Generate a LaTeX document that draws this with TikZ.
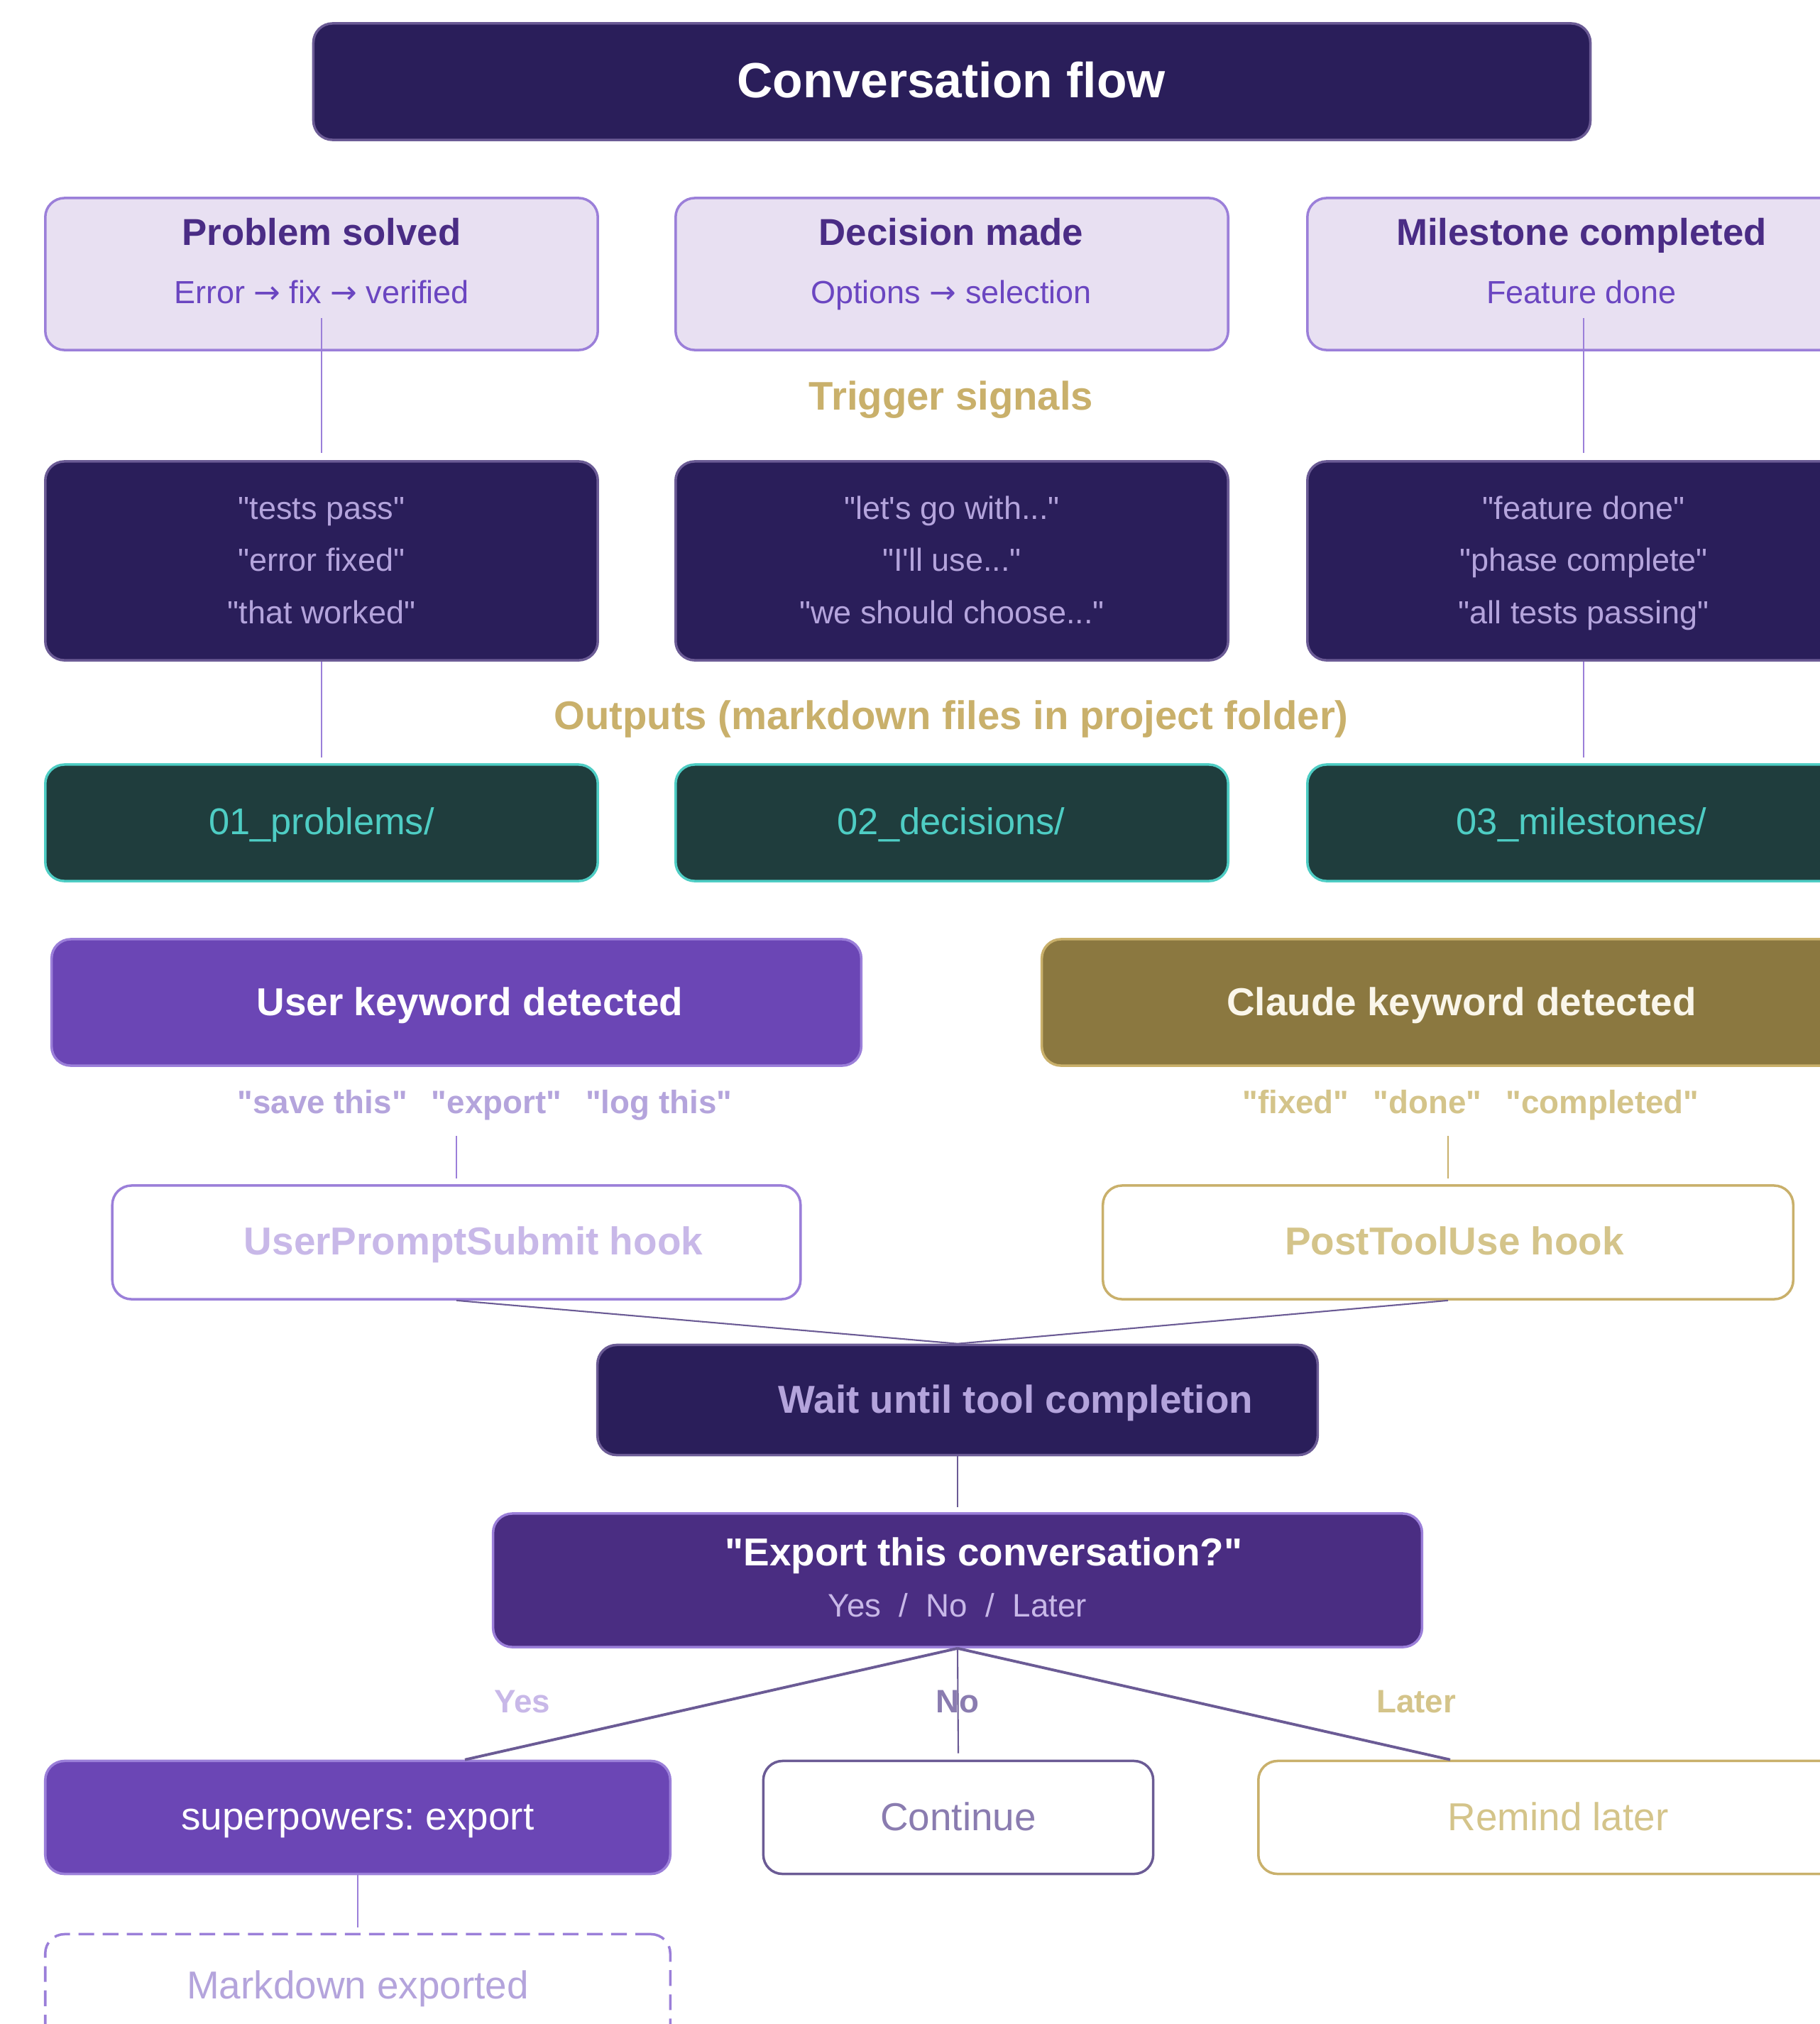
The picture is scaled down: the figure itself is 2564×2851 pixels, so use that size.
\documentclass[tikz,border=0pt]{standalone}
\usepackage{fontspec}
\setmainfont{Liberation Sans}[Ligatures=TeXOff]
\newfontfamily\arrowfont{DejaVu Sans}
\definecolor{cfNavy}{HTML}{2A1E5A}
\definecolor{cfNavyEdge}{HTML}{6B5B95}
\definecolor{cfLilac}{HTML}{E8E0F2}
\definecolor{cfLilacEdge}{HTML}{9B7FD9}
\definecolor{cfPlum}{HTML}{4A2C85}
\definecolor{cfViolet}{HTML}{6B46C1}
\definecolor{cfMist}{HTML}{B4A4DC}
\definecolor{cfPale}{HTML}{C8B8E8}
\definecolor{cfGold}{HTML}{C9B06B}
\definecolor{cfGoldPale}{HTML}{D4C48A}
\definecolor{cfCream}{HTML}{FAF6EA}
\definecolor{cfOlive}{HTML}{8B7840}
\definecolor{cfTealDark}{HTML}{1F3D3D}
\definecolor{cfTeal}{HTML}{4ECDC4}
\definecolor{cfPurple}{HTML}{6B46B5}
\definecolor{cfDeep}{HTML}{4A2D82}
\definecolor{cfGrape}{HTML}{8A7CB0}
\usepackage{tikz}
\usetikzlibrary{calc,positioning}
\newcommand{\cfto}{{\arrowfont →}}
\frenchspacing

\begin{document}
\begin{tikzpicture}[x=0.01cm, y=-0.01cm,
  card/.style={rounded corners=0.27cm, line width=1pt, inner sep=0pt, minimum width=7.78cm},
  txt/.style={anchor=base, inner sep=0pt},
  cardtitle/.style={font=\fontsize{15}{18}\selectfont\bfseries, text=cfPlum},
  cardsub/.style={font=\fontsize{12.8}{15}\selectfont, text=cfViolet},
  section/.style={font=\fontsize{16}{19}\selectfont\bfseries, text=cfGold},
  phrases/.style={card, fill=cfNavy, draw=cfNavyEdge, minimum height=2.80cm, align=center,
        font=\fontsize{12.8}{20.9}\selectfont, text=cfMist},
  big/.style={font=\fontsize{15.6}{19}\selectfont\bfseries},
  plain/.style={font=\fontsize{15.6}{19}\selectfont},
  small/.style={font=\fontsize{13}{16}\selectfont\bfseries},
  thin/.style={line width=0.6pt}]
  \useasboundingbox (0,0) rectangle (2564,2851);
  \clip (0,0) rectangle (2564,2851);
  \fill[white] (0,0) rectangle (2564,2851);

  % Header
  \node[card, fill=cfNavy, draw=cfNavyEdge, minimum width=17.98cm, minimum height=1.64cm] (head) at (1341,115) {};
  \node[txt, font=\fontsize{19.8}{24}\selectfont\bfseries, text=white] (headTxt) at (1340,137) {Conversation flow};

  % Kinds of moments
  \node[card, fill=cfLilac, draw=cfLilacEdge, minimum height=2.14cm] (prob) at (453,386) {};
  \node[txt, cardtitle] (probTitle) at (453,345) {Problem solved};
  \node[txt, cardsub] (probSub) at (453,427) {Error \cfto{} fix \cfto{} verified};

  \node[card, fill=cfLilac, draw=cfLilacEdge, minimum height=2.14cm] (dec) at (1341,386) {};
  \node[txt, cardtitle] (decTitle) at (1340,345) {Decision made};
  \node[txt, cardsub] (decSub) at (1340,427) {Options \cfto{} selection};

  \node[card, fill=cfLilac, draw=cfLilacEdge, minimum height=2.14cm] (mile) at (2231,386) {};
  \node[txt, cardtitle] (mileTitle) at (2228,345) {Milestone completed};
  \node[txt, cardsub] (mileSub) at (2228,427) {Feature done};

  \node[txt, section] (trig) at (1340,577) {Trigger signals};

  % Phrases that trigger
  \node[phrases] (sigA) at (453,790) {\strut"tests pass"\\"error fixed"\\"that worked"\strut};
  \node[phrases] (sigB) at (1341,790) {\strut"let's go with..."\\"I'll use..."\\"we should choose..."\strut};
  \node[phrases] (sigC) at (2231,790) {\strut"feature done"\\"phase complete"\\"all tests passing"\strut};

  \node[txt, section] (outs) at (1340,1027) {Outputs (markdown files in project folder)};

  % Folders
  \node[card, fill=cfTealDark, draw=cfTeal, minimum height=1.64cm] (outA) at (453,1159) {};
  \node[txt, font=\fontsize{14.9}{18}\selectfont, text=cfTeal] (outAtxt) at (453,1175) {01\_problems/};
  \node[card, fill=cfTealDark, draw=cfTeal, minimum height=1.64cm] (outB) at (1341,1159) {};
  \node[txt, font=\fontsize{14.9}{18}\selectfont, text=cfTeal] (outBtxt) at (1340,1175) {02\_decisions/};
  \node[card, fill=cfTealDark, draw=cfTeal, minimum height=1.64cm] (outC) at (2231,1159) {};
  \node[txt, font=\fontsize{14.9}{18}\selectfont, text=cfTeal] (outCtxt) at (2228,1175) {03\_milestones/};

  \draw[cfLilacEdge, thin] ($(prob.south)+(0,-47)$) -- ($(sigA.north)+(0,-10)$);
  \draw[cfLilacEdge, thin] (sigA.south) -- ($(outA.north)+(0,-8)$);
  \draw[cfLilacEdge, thin] ($(mile.south)+(0,-47)$) -- ($(sigC.north)+(0,-10)$);
  \draw[cfLilacEdge, thin] (sigC.south) -- ($(outC.north)+(0,-8)$);

  % Keyword detection
  \node[card, fill=cfPurple, draw=cfLilacEdge, minimum width=11.40cm, minimum height=1.78cm] (usr) at (643,1412) {};
  \node[txt, big, text=white] (usrTxt) at (662,1430) {User keyword detected};
  \node[card, fill=cfOlive, draw=cfGold, minimum width=11.40cm, minimum height=1.78cm] (cld) at (2038,1412) {};
  \node[txt, big, text=cfCream] (cldTxt) at (2059,1430) {Claude keyword detected};

  \node[txt, small, text=cfMist] (kwUser) at (683,1568) {"save this"\hspace{0.75em}"export"\hspace{0.75em}"log this"};
  \node[txt, small, text=cfGoldPale] (kwCld) at (2072,1568) {"fixed"\hspace{0.75em}"done"\hspace{0.75em}"completed"};

  \node[card, fill=white, draw=cfLilacEdge, minimum width=9.69cm, minimum height=1.60cm] (uph) at (643,1750) {};
  \node[txt, big, text=cfPale] (uphTxt) at (667,1767) {UserPromptSubmit hook};
  \node[card, fill=white, draw=cfGold, minimum width=9.72cm, minimum height=1.60cm] (pth) at (2040,1750) {};
  \node[txt, big, text=cfGoldPale] (pthTxt) at (2049,1767) {PostToolUse hook};

  \draw[cfLilacEdge, thin] ($(uph.north)+(0,-68)$) -- ($(uph.north)+(0,-8)$);
  \draw[cfGold, thin] ($(pth.north)+(0,-68)$) -- ($(pth.north)+(0,-8)$);

  % Prompt
  \node[card, fill=cfNavy, draw=cfNavyEdge, minimum width=10.14cm, minimum height=1.55cm] (wait) at (1349,1972) {};
  \node[txt, big, text=cfMist] (waitTxt) at (1431,1990) {Wait until tool completion};
  \draw[cfNavyEdge, thin] (uph.south) -- (wait.north);
  \draw[cfNavyEdge, thin] (pth.south) -- (wait.north);

  \node[card, fill=cfDeep, draw=cfLilacEdge, minimum width=13.08cm, minimum height=1.88cm] (ask) at (1349,2226) {};
  \node[txt, big, text=white] (askTxt) at (1386,2205) {"Export this conversation?"};
  \node[txt, font=\fontsize{13}{16}\selectfont, text=cfPale] (askOpts) at (1349,2277) {Yes~~/~~No~~/~~Later};
  \draw[cfNavyEdge, thin] (wait.south) -- ($(ask.north)+(0,-7)$);

  % Answers
  \node[card, fill=cfPurple, draw=cfLilacEdge, minimum width=8.80cm, minimum height=1.59cm] (spw) at (504,2560) {};
  \node[txt, plain, text=white] (spwTxt) at (504,2577) {superpowers: export};
  \node[card, fill=white, draw=cfNavyEdge, minimum width=5.49cm, minimum height=1.59cm] (cont) at (1350,2560) {};
  \node[txt, plain, text=cfGrape] (contTxt) at (1350,2578) {Continue};
  \node[card, fill=white, draw=cfGold, minimum width=8.80cm, minimum height=1.59cm] (rmd) at (2213,2560) {};
  \node[txt, plain, text=cfGoldPale] (rmdTxt) at (2195,2578) {Remind later};

  \draw[cfNavyEdge, line width=1.1pt] (ask.south) -- ($(spw.north)+(151,0)$);
  \draw[cfNavyEdge, thin] (ask.south) -- ($(cont.north)+(0,-9)$);
  \draw[cfNavyEdge, line width=1.1pt] (ask.south) -- ($(rmd.north)+(-170,0)$);

  \node[txt, small, text=cfPale] (yesLbl) at (736,2412) {Yes};
  \node[txt, small, text=cfGrape] (noLbl) at (1349,2412) {No};
  \node[txt, small, text=cfGoldPale] (laterLbl) at (1995,2412) {Later};

  \node[card, fill=white, draw=cfLilacEdge, dashed, dash pattern=on 6.3pt off 3.4pt, minimum width=8.80cm, minimum height=1.59cm] (mdx) at (504,2804) {};
  \node[txt, plain, text=cfMist] (mdxTxt) at (504,2815) {Markdown exported};
  \draw[cfLilacEdge, thin] (spw.south) -- ($(mdx.north)+(0,-8)$);

\end{tikzpicture}
\end{document}
